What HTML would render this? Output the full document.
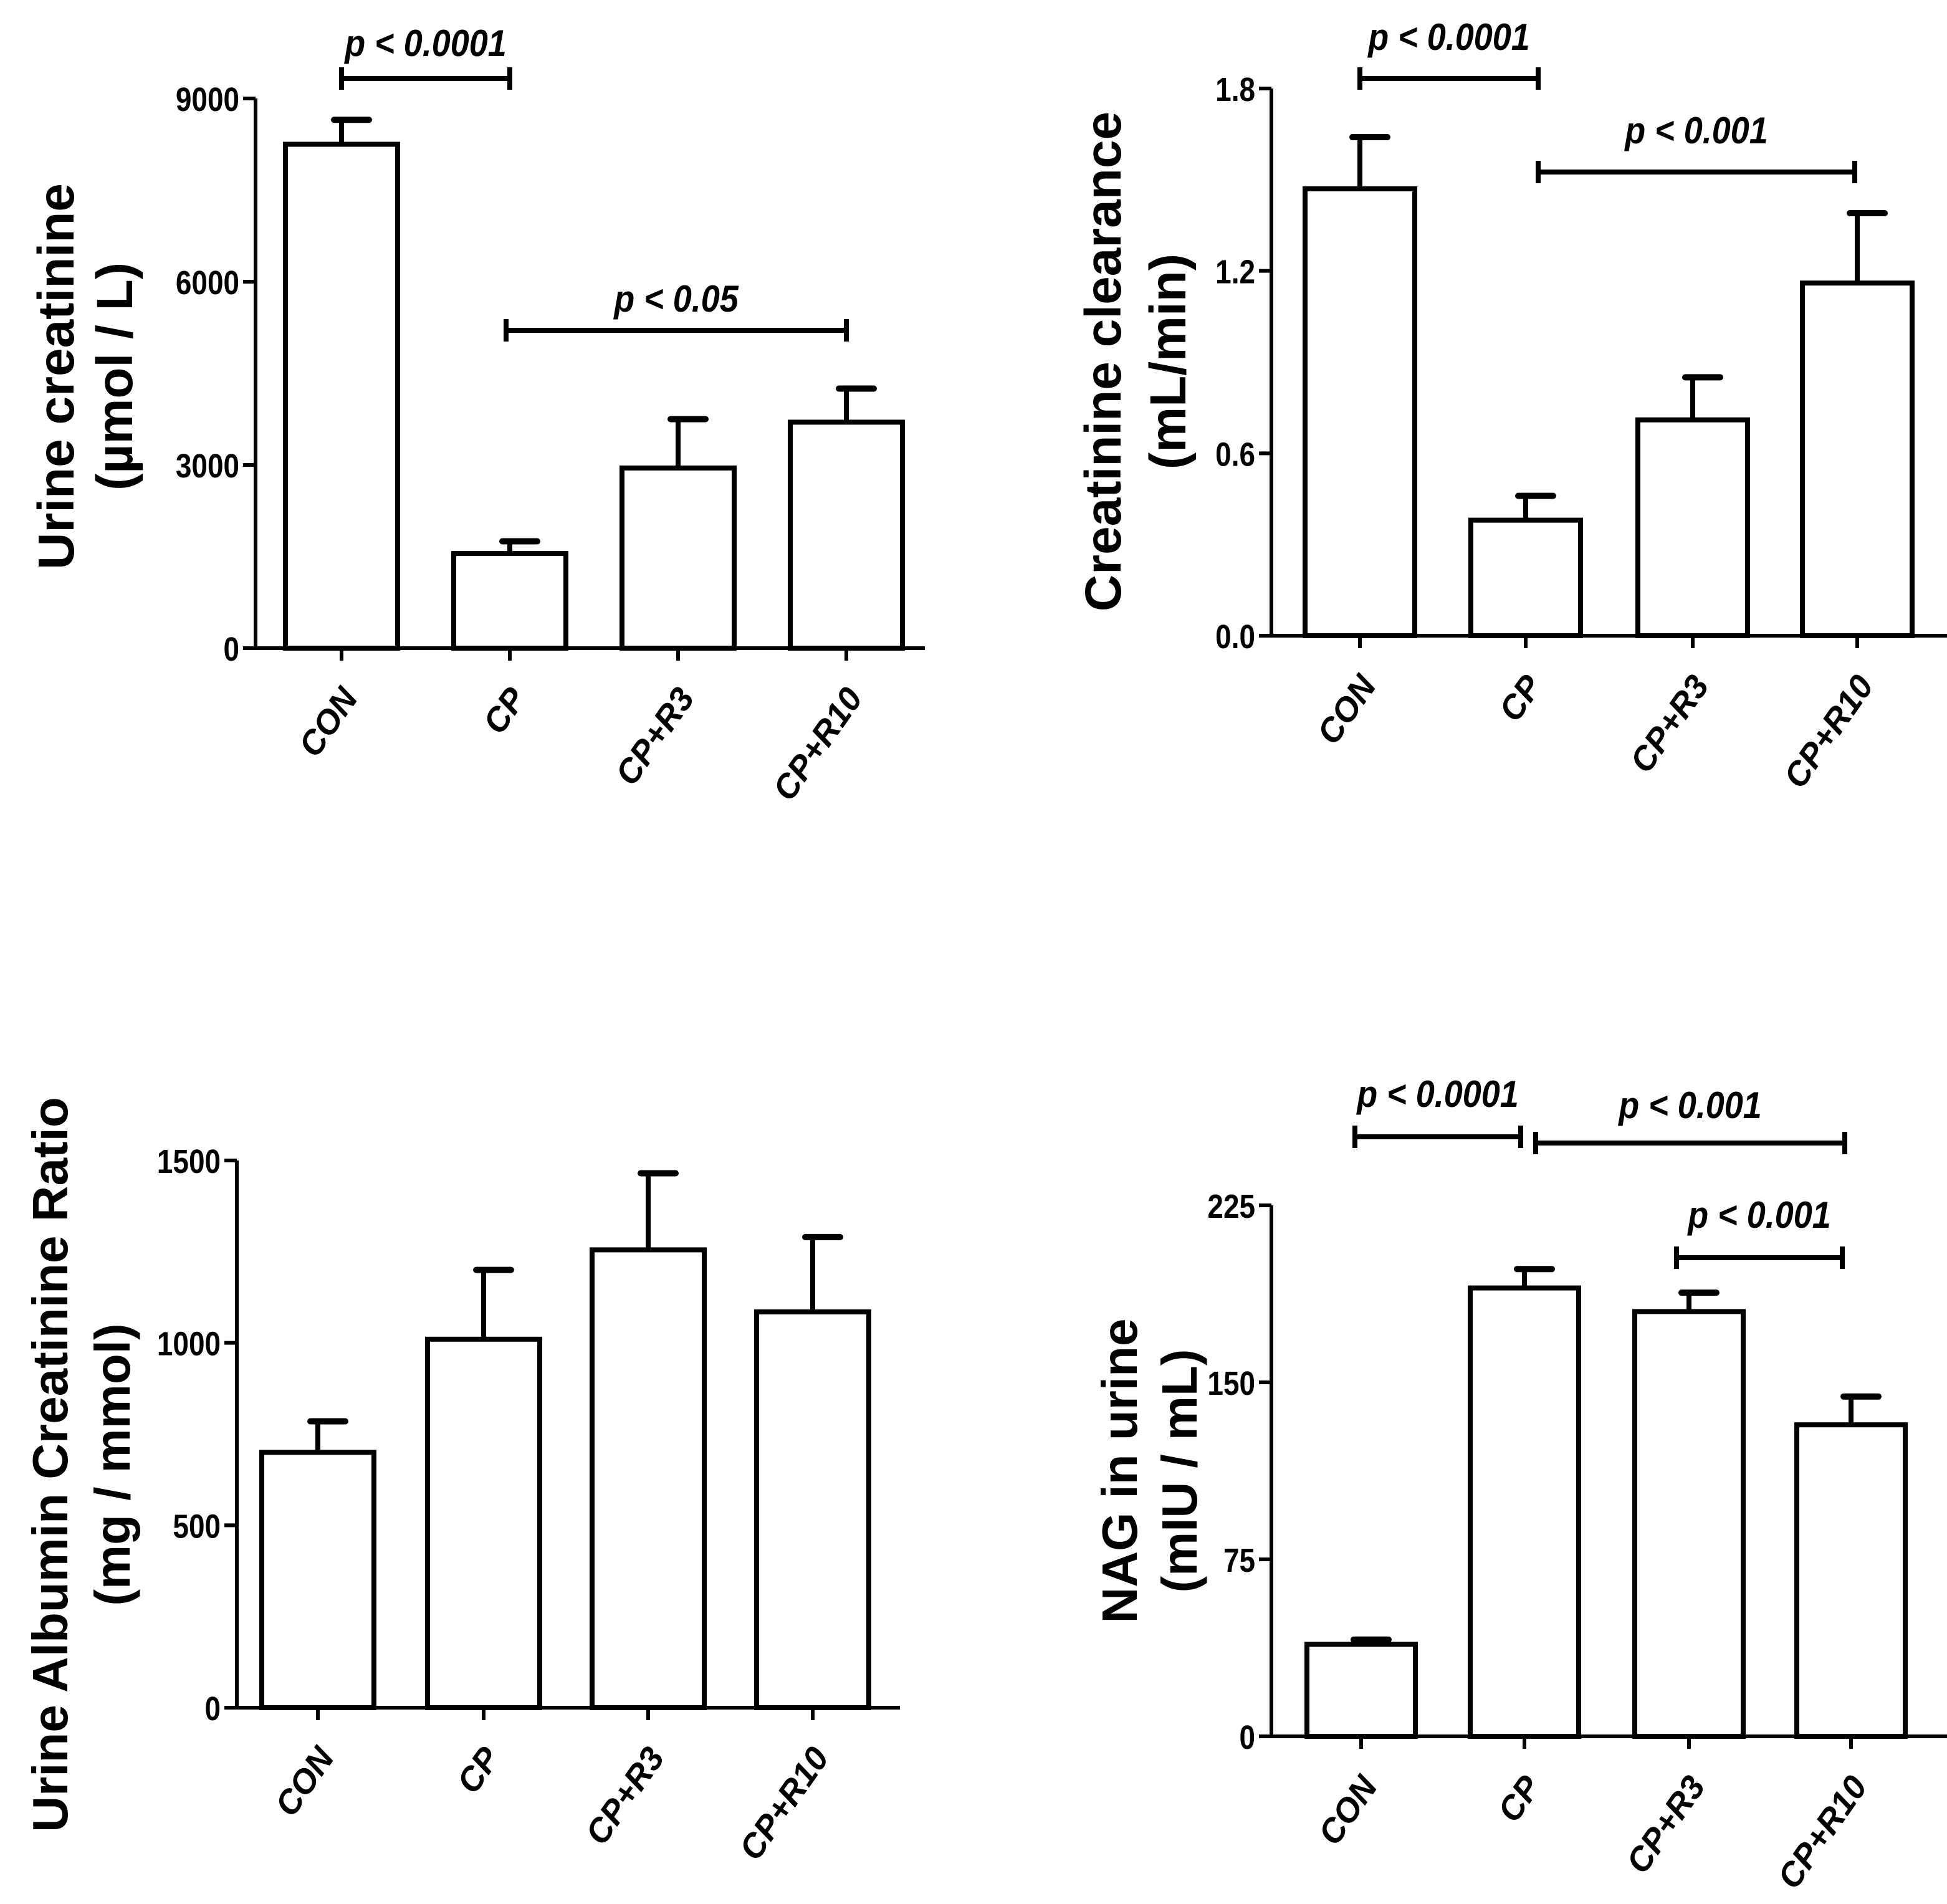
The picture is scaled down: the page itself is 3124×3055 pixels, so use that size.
<!DOCTYPE html>
<html><head><meta charset="utf-8"><style>
html,body{margin:0;padding:0;background:#fff;}
svg{display:block;}
text{font-family:"Liberation Sans",sans-serif;font-weight:bold;fill:#000;}
</style></head><body>
<svg id="fig" xmlns="http://www.w3.org/2000/svg" width="3124" height="3055" viewBox="0 0 1562 1527.5"></svg>
<script>
const categories = ["CON","CP","CP+R3","CP+R10"];
const ucrMeans = [8250,1550,2950,3700];
const ucrErr = [400,200,800,550];
const ucrTicks = ["0","3000","6000","9000"];
const ccMeans = [1.47,0.38,0.71,1.16];
const ccErr = [0.17,0.08,0.14,0.23];
const ccTicks = ["0.0","0.6","1.2","1.8"];
const uacrMeans = [700,1010,1255,1085];
const uacrErr = [85,190,210,205];
const uacrTicks = ["0","500","1000","1500"];
const nagMeans = [39,190,180,132];
const nagErr = [2,8,8,12];
const nagTicks = ["0","75","150","225"];

const NS="http://www.w3.org/2000/svg";
const svg=document.getElementById('fig');
function mk(tag,attrs,parent){const e=document.createElementNS(NS,tag);for(const k in attrs)e.setAttribute(k,attrs[k]);(parent||svg).appendChild(e);return e;}

const panels=[
 {name:'urine-creatinine',means:ucrMeans,err:ucrErr,ticks:ucrTicks,ymax:9000,ax:205,y0:520,ytop:79,xend:742,centers:[274,409,544,679],bw:90,
  label:["Urine creatinine","(µmol / L)"],lx:[45,92],ly:302,lfs:41,
  brackets:[{a:0,b:1,y:63,text:"p < 0.0001",ty:45},{a:1,b:3,y:265,text:"p < 0.05",ty:250,xa:406}]},
 {name:'creatinine-clearance',means:ccMeans,err:ccErr,ticks:ccTicks,ymax:1.8,ax:1020,y0:510,ytop:71,xend:1562,centers:[1091,1224,1358,1490],bw:88,
  label:["Creatinine clearance","(mL/min)"],lx:[885,937],ly:290,lfs:41,
  brackets:[{a:0,b:1,y:63,text:"p < 0.0001",ty:40,xb:1234},{a:1,b:3,y:138,text:"p < 0.001",ty:115,xa:1234,xb:1488}]},
 {name:'urine-albumin-creatinine-ratio',means:uacrMeans,err:uacrErr,ticks:uacrTicks,ymax:1500,ax:190,y0:1370,ytop:931,xend:722,centers:[255,388,520,652],bw:90,
  label:["Urine Albumin Creatinine Ratio","(mg / mmol)"],lx:[40,90],ly:1175,lfs:40,brackets:[]},
 {name:'nag-in-urine',means:nagMeans,err:nagErr,ticks:nagTicks,ymax:225,ax:1020,y0:1393,ytop:967,xend:1562,centers:[1092,1223,1355,1485],bw:87,
  label:["NAG in urine","(mIU / mL)"],lx:[898,946],ly:1180,lfs:40,
  brackets:[{a:0,b:1,y:912,text:"p < 0.0001",ty:888,xa:1087,xb:1220},{a:1,b:3,y:917,text:"p < 0.001",ty:897,xa:1232,xb:1480},{a:2,b:3,y:1009,text:"p < 0.001",ty:985,xa:1345,xb:1478}]}
];

panels.forEach(p=>{
  const g=mk('g',{});
  
  
  const ys=v=>p.y0-(v/p.ymax)*(p.y0-p.ytop);
  p.means.forEach((m,i)=>{
    const cx=p.centers[i];
    const eb=mk('line',{x1:cx,x2:cx,y1:ys(m),y2:ys(m+p.err[i]),stroke:'#000','stroke-width':4},g);
    
    
    const cap=mk('line',{x1:cx-6,x2:cx+22,y1:ys(m+p.err[i]),y2:ys(m+p.err[i]),stroke:'#000','stroke-width':5,'stroke-linecap':'round'},g);
    
    
    const r=mk('rect',{x:cx-p.bw/2,y:ys(m),width:p.bw,height:p.y0-ys(m),fill:'#fff',stroke:'#000','stroke-width':4},g);
    
    
    const tk=mk('line',{x1:cx,x2:cx,y1:p.y0,y2:p.y0+10,stroke:'#000','stroke-width':3},g);
    
    
    const t=mk('text',{x:0,y:0,'font-size':27,'font-style':'italic','text-anchor':'end',transform:`translate(${cx+14},${p.y0+40}) rotate(-55)`},g);
    t.textContent=categories[i];
    
    
  });
  const ya=mk('line',{x1:p.ax,x2:p.ax,y1:p.ytop,y2:p.y0,stroke:'#000','stroke-width':3},g);
  
  
  const xa=mk('line',{x1:p.ax-10,x2:p.xend,y1:p.y0,y2:p.y0,stroke:'#000','stroke-width':3},g);
  
  
  p.ticks.forEach((tl,i)=>{
    const v=p.ymax*i/(p.ticks.length-1);
    const y=ys(v);
    const tk=mk('line',{x1:p.ax-10,x2:p.ax,y1:y,y2:y,stroke:'#000','stroke-width':3},g);
    
    
    const t=mk('text',{x:0,y:0,'font-size':27,'text-anchor':'end',transform:`translate(${p.ax-13},${y+10}) scale(0.85,1)`},g);
    t.textContent=tl;
    
    
  });
  p.label.forEach((s,i)=>{
    const t=mk('text',{x:0,y:0,'font-size':p.lfs,'text-anchor':'middle',transform:`translate(${p.lx[i]+14},${p.ly}) rotate(-90)`},g);
    t.textContent=s;
    
    
  });
  p.brackets.forEach(b=>{
    const xa=b.xa!==undefined?b.xa:p.centers[b.a];
    const xb=b.xb!==undefined?b.xb:p.centers[b.b];
    const bg=mk('g',{stroke:'#000','stroke-width':4},g);
    
    
    mk('line',{x1:xa,x2:xb,y1:b.y,y2:b.y},bg);
    mk('line',{x1:xa,x2:xa,y1:b.y-9,y2:b.y+9},bg);
    mk('line',{x1:xb,x2:xb,y1:b.y-9,y2:b.y+9},bg);
    const t=mk('text',{x:0,y:0,'font-size':30,'font-style':'italic','text-anchor':'middle',transform:`translate(${(xa+xb)/2},${b.ty}) scale(0.9,1)`},g);
    t.textContent=b.text;
    
    
  });
});
</script>
</body></html>
